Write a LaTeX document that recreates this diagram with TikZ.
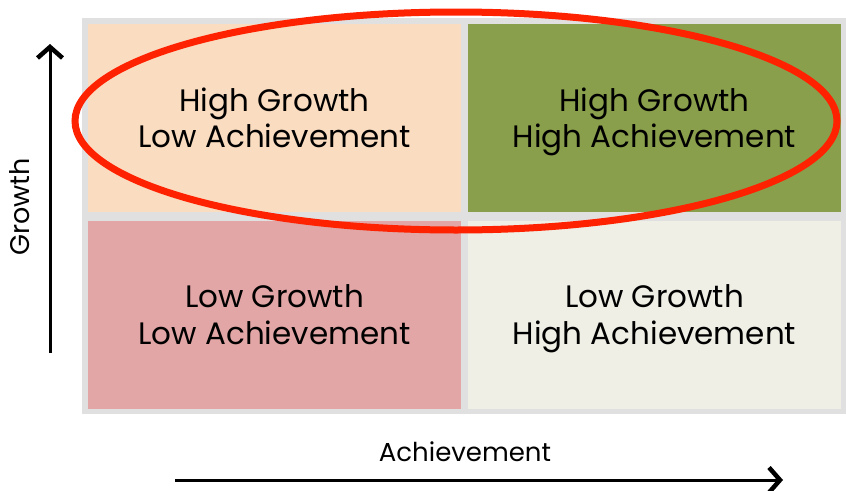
\documentclass[tikz,border=0pt]{standalone}
\usepackage{fontspec}
\setmainfont{Poppins}
\usetikzlibrary{arrows.meta,shapes.geometric}
\definecolor{framegray}{HTML}{E0E0E0}
\definecolor{peach}{HTML}{FADCC0}
\definecolor{olive}{HTML}{8A9F4B}
\definecolor{rose}{HTML}{E1A6A5}
\definecolor{cream}{HTML}{EFEFE6}
\definecolor{redline}{HTML}{FF2200}
\newcommand{\qs}{\vphantom{Hg}}
\begin{document}
\begin{tikzpicture}[x=1pt,y=-1pt,
  cell/.style={draw=none, inner sep=0pt, minimum width=373pt, minimum height=188pt,
    align=center, font=\fontsize{31}{36.7}\selectfont},
  axisarrow/.style={line width=3pt, -{Straight Barb[length=11pt,width=25pt,line width=4.5pt]}},
  axislabel/.style={inner sep=0pt}]
\useasboundingbox (0,0) rectangle (846,490);
\fill[white] (0,0) rectangle (846,490);
\node[fill=framegray, minimum width=764pt, minimum height=396pt, inner sep=0pt] (frame) at (464,216) {};
\node[cell, fill=peach] (hl) at (274.5,118) {};
\node[cell, fill=olive] (hh) at (654.5,118) {};
\node[cell, fill=rose] (ll) at (274.5,315) {};
\node[cell, fill=cream] (lh) at (654.5,315) {};
\node[cell, fill=none, minimum height=0pt] (thl) at ([yshift=-4pt]hl.center) {\qs High Growth\\\qs Low Achievement};
\node[cell, fill=none, minimum height=0pt] (thh) at ([yshift=-4pt]hh.center) {\qs High Growth\\\qs High Achievement};
\node[cell, fill=none, minimum height=0pt] (tll) at ([yshift=-4pt]ll.center) {\qs Low Growth\\\qs Low Achievement};
\node[cell, fill=none, minimum height=0pt] (tlh) at ([yshift=-4pt]lh.center) {\qs Low Growth\\\qs High Achievement};
\node[ellipse, draw=redline, line width=7pt, minimum width=762pt, minimum height=218pt, inner sep=0pt] (oval) at (456,121) {};
\coordinate (gs) at (50,353);
\coordinate (ge) at (50,44);
\draw[axisarrow] (gs) -- (ge);
\node[axislabel, rotate=90, font=\fontsize{27}{32}\selectfont] (glab) at (20,207) {Growth};
\coordinate (as) at (175,480);
\coordinate (ae) at (783,480);
\draw[axisarrow] (as) -- (ae);
\node[axislabel, font=\fontsize{26}{31}\selectfont] (alab) at (465,452) {Achievement};
\end{tikzpicture}
\end{document}
